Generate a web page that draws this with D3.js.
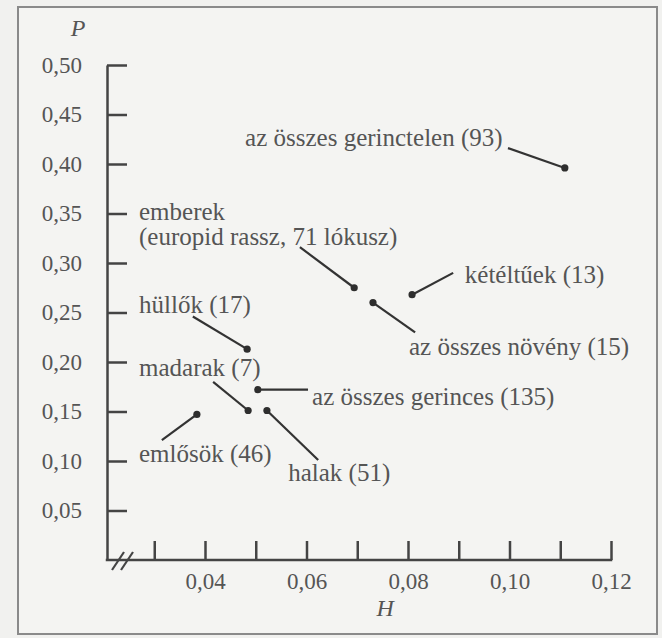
<!DOCTYPE html>
<html>
<head>
<meta charset="utf-8">
<script src="https://cdn.jsdelivr.net/npm/d3@7"></script>
</head>
<body style="margin:0; background:#f1f1ef">
<svg id="chart" width="662" height="638" style="display:block"></svg>
<script>

// csoportok (heterozigotia H, polimorf lokuszok aranya P)
var names = ['az összes gerinctelen (93)', 'kétéltűek (13)', 'emberek', 'az összes növény (15)',
    'hüllők (17)', 'az összes gerinces (135)', 'madarak (7)', 'halak (51)', 'emlősök (46)'];
var hValues = [0.1109, 0.0808, 0.0694, 0.0731, 0.0483, 0.0504, 0.0485, 0.0522, 0.0384];
var pValues = [0.396, 0.268, 0.275, 0.260, 0.213, 0.172, 0.151, 0.151, 0.147];

// where the leader line ends (data units)
var leaderH = [0.0997, 0.0889, 0.0587, 0.0814, 0.0376, 0.0603, 0.0416, 0.0623, 0.0315];
var leaderP = [0.416, 0.290, 0.316, 0.230, 0.246, 0.172, 0.180, 0.101, 0.121];

// label anchor (left edge, middle of text) in data units
var labelH = [0.0479, 0.0912, 0.0270, 0.0802, 0.0270, 0.0611, 0.0270, 0.0564, 0.0270];
var labelP = [0.427, 0.288, 0.3515, 0.2152, 0.2576, 0.1646, 0.1939, 0.0879, 0.1071];
var extraLine = ['', '', '(europid rassz, 71 lókusz)', '', '', '', '', '', ''];

var yTicks = [0.05, 0.10, 0.15, 0.20, 0.25, 0.30, 0.35, 0.40, 0.45, 0.50];
var xTicks = [0.03, 0.04, 0.05, 0.06, 0.07, 0.08, 0.09, 0.10, 0.11, 0.12];
var xLabelled = [0.04, 0.06, 0.08, 0.10, 0.12];

var serif = '"Times New Roman"';

var svg = d3.select('#chart');

var x = d3.scaleLinear()
    .domain([0.04, 0.12])
    .range([205, 611]);

var y = d3.scaleLinear()
    .domain([0, 0.5])
    .range([560, 65]);

var axisX = 107;
var comma = function(v) { return d3.format('.2f')(v).replace('.', ','); };

// frame
svg.append('rect')
    .attr('x', 18)
    .attr('y', 7)
    .attr('width', 639)
    .attr('height', 627)
    .attr('fill', '#f4f4f2')
    .attr('stroke', '#8a8a8a')
    .attr('stroke-width', 2);

// y axis
var gy = svg.append('g')
    .attr('transform', 'translate(' + axisX + ',0)')
    .call(d3.axisLeft(y).tickValues(yTicks).tickSize(-20).tickSizeOuter(0).tickPadding(25).tickFormat(comma));

gy.attr('font-family', null).attr('font-size', null);
gy.selectAll('path, line')
    .attr('stroke', '#444')
    .attr('stroke-width', 2.5);
gy.selectAll('text')
    .style('font-family', serif)
    .attr('font-size', 23)
    .attr('fill', '#555');

// x axis
var gx = svg.append('g')
    .attr('transform', 'translate(0,' + y(0) + ')')
    .call(d3.axisBottom(x).tickValues(xTicks).tickSize(-19).tickPadding(13).tickFormat(function(d) {
        var lab = xLabelled.some(function(v) { return Math.abs(v - d) < 1e-9; });
        return lab ? comma(d) : '';
    }));

gx.attr('font-family', null).attr('font-size', null);
gx.select('.domain').remove();
gx.selectAll('line')
    .attr('stroke', '#444')
    .attr('stroke-width', 2.5);
gx.selectAll('text')
    .style('font-family', serif)
    .attr('font-size', 23)
    .attr('fill', '#555');

gx.append('line')
    .attr('x1', axisX - 1.25)
    .attr('x2', x(0.12) + 1.25)
    .attr('y1', 0)
    .attr('y2', 0)
    .attr('stroke', '#444')
    .attr('stroke-width', 2.5);

// break marks on the x axis
[axisX + 11, axisX + 20].forEach(function(cx) {
    gx.append('line')
        .attr('x1', cx - 6)
        .attr('y1', 10)
        .attr('x2', cx + 6)
        .attr('y2', -8)
        .attr('stroke', '#444')
        .attr('stroke-width', 2.2);
});

// axis titles
svg.append('text')
    .attr('x', 78)
    .attr('y', 28)
    .attr('dy', '0.35em')
    .attr('text-anchor', 'middle')
    .attr('fill', '#555')
    .style('font-family', serif)
    .attr('font-style', 'italic')
    .attr('font-size', 24)
    .text('P');

svg.append('text')
    .attr('x', x(0.0755))
    .attr('y', 608)
    .attr('dy', '0.35em')
    .attr('text-anchor', 'middle')
    .attr('fill', '#555')
    .style('font-family', serif)
    .attr('font-style', 'italic')
    .attr('font-size', 24)
    .text('H');

// leader lines
svg.selectAll('.leader')
    .data(names)
    .enter()
    .append('line')
        .attr('class', 'leader')
        .attr('stroke', '#333')
        .attr('stroke-width', 2.2)
        .attr('x1', function(d, i) { return x(hValues[i]); })
        .attr('y1', function(d, i) { return y(pValues[i]); })
        .attr('x2', function(d, i) { return x(leaderH[i]); })
        .attr('y2', function(d, i) { return y(leaderP[i]); });

// points
svg.selectAll('.pont')
    .data(names)
    .enter()
    .append('circle')
        .attr('class', 'pont')
        .attr('fill', '#2e2e2e')
        .attr('r', 3.6)
        .attr('cx', function(d, i) { return x(hValues[i]); })
        .attr('cy', function(d, i) { return y(pValues[i]); });

// labels (two lines only for emberek)
svg.selectAll('.cimke')
    .data(names)
    .enter()
    .append('text')
        .attr('class', 'cimke')
        .attr('fill', '#555')
        .style('font-family', serif)
        .attr('font-size', 25)
        .attr('x', function(d, i) { return x(labelH[i]); })
        .attr('y', function(d, i) { return y(labelP[i]); })
        .attr('dy', '0.33em')
        .text(function(d) { return d; });

svg.selectAll('.cimke2')
    .data(extraLine.filter(function(d) { return d !== ''; }))
    .enter()
    .append('text')
        .attr('class', 'cimke2')
        .attr('fill', '#555')
        .style('font-family', serif)
        .attr('font-size', 25)
        .attr('x', x(labelH[2]))
        .attr('y', y(labelP[2]) + 25)
        .attr('dy', '0.33em')
        .text(function(d) { return d; });

</script>
</body>
</html>
